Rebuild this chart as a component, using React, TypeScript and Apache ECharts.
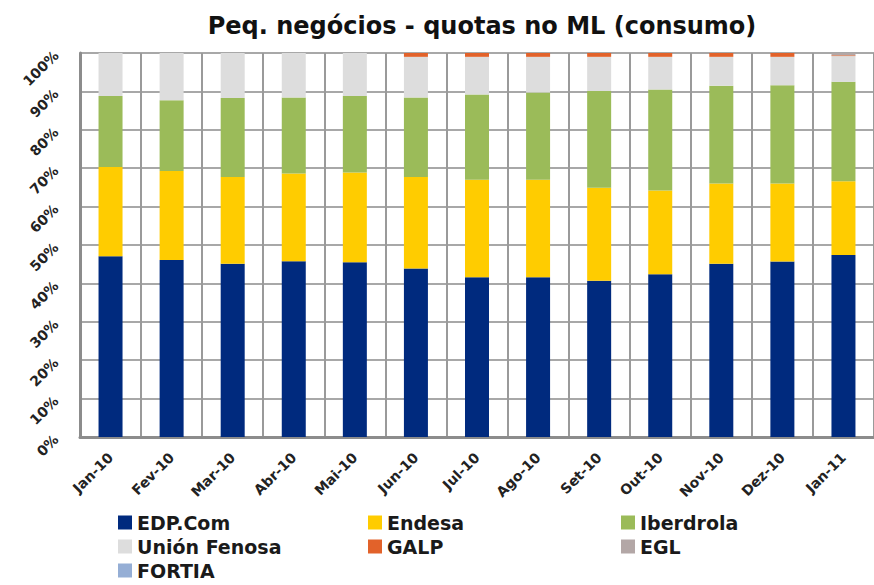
import React, { useEffect, useRef } from "react";
import * as echarts from "echarts";

const categories = ["Jan-10", "Fev-10", "Mar-10", "Abr-10", "Mai-10", "Jun-10", "Jul-10", "Ago-10", "Set-10", "Out-10", "Nov-10", "Dez-10", "Jan-11"];
const edpCom = [47.1, 46.1, 45.1, 45.8, 45.5, 43.9, 41.6, 41.6, 40.7, 42.4, 45.1, 45.7, 47.4];
const endesa = [23.2, 23.2, 22.6, 22.8, 23.4, 23.8, 25.4, 25.4, 24.2, 21.8, 20.9, 20.3, 19.2];
const iberdrola = [18.5, 18.4, 20.6, 19.8, 19.9, 20.7, 22.2, 22.7, 25.2, 26.3, 25.5, 25.6, 25.9];
const unionFenosa = [11.2, 12.3, 11.7, 11.6, 11.2, 10.6, 9.8, 9.3, 8.9, 8.5, 7.5, 7.4, 6.7];
const galp = [0, 0, 0, 0, 0, 1.0, 1.0, 1.0, 1.0, 1.0, 1.0, 1.0, 0.2];
const egl = [0, 0, 0, 0, 0, 0, 0, 0, 0, 0, 0, 0, 0.6];
const fortia = [0, 0, 0, 0, 0, 0, 0, 0, 0, 0, 0, 0, 0];
const yTicks = [0, 10, 20, 30, 40, 50, 60, 70, 80, 90, 100];

const seriesDefs = [
  { name: "EDP.Com", data: edpCom, color: "#002A7E" },
  { name: "Endesa", data: endesa, color: "#FFCC00" },
  { name: "Iberdrola", data: iberdrola, color: "#9BBB59" },
  { name: "Unión Fenosa", data: unionFenosa, color: "#DDDDDD" },
  { name: "GALP", data: galp, color: "#E2622A" },
  { name: "EGL", data: egl, color: "#B3A7A6" },
  { name: "FORTIA", data: fortia, color: "#95AED5" },
];

const FONT = "'DejaVu Sans', 'Liberation Sans', Arial, sans-serif";

export default function App() {
  const ref = useRef<HTMLDivElement>(null);
  useEffect(() => {
    if (!ref.current) return;
    const chart = echarts.init(ref.current, null, { renderer: "svg" });
    const legendText = { fontFamily: FONT, fontSize: 19, fontWeight: "bold" as const, color: "#1a1a1a", lineHeight: 19 };
    const mkLegend = (names: string[], left: number) => ({
      orient: "vertical" as const,
      left,
      top: 513,
      height: 100,
      padding: 0,
      itemWidth: 14,
      itemHeight: 14,
      itemGap: 5,
      icon: "rect",
      textStyle: legendText,
      data: names,
      selectedMode: false,
    });
    chart.setOption({
      animation: false,
      backgroundColor: "#ffffff",
      title: {
        text: "Peq. negócios - quotas no ML (consumo)",
        left: 477,
        textAlign: "center",
        top: 9,
        textStyle: { fontFamily: FONT, fontSize: 24, fontWeight: "bold", color: "#111" },
      },
      legend: [
        mkLegend(["EDP.Com", "Unión Fenosa", "FORTIA"], 118),
        mkLegend(["Endesa", "GALP"], 368),
        mkLegend(["Iberdrola", "EGL"], 621),
      ],
      grid: { left: 80, top: 53, bottom: 148, right: -8, containLabel: false },
      xAxis: {
        type: "category",
        data: categories,
        boundaryGap: true,
        axisLine: { show: true, lineStyle: { color: "#8c8c8c", width: 3 } },
        axisTick: { show: false },
        splitLine: { show: true, interval: 0, lineStyle: { color: "#9a9a9a", width: 2 } },
        axisLabel: {
          interval: 0,
          rotate: 45,
          margin: 18,
          fontFamily: FONT,
          fontSize: 14,
          fontWeight: "bold",
          color: "#222",
        },
      },
      yAxis: {
        type: "value",
        min: 0,
        max: 100,
        interval: 10,
        axisLine: { show: true, lineStyle: { color: "#8c8c8c", width: 3 } },
        axisTick: { show: false },
        splitLine: { show: true, lineStyle: { color: "#a8a8a8", width: 2 } },
        axisLabel: {
          rotate: 45,
          margin: 24,
          fontFamily: FONT,
          fontSize: 14,
          fontWeight: "bold",
          color: "#222",
          formatter: (v: number) => (yTicks.includes(v) ? v + "%" : ""),
        },
      },
      series: seriesDefs.map((s) => ({
        name: s.name,
        type: "bar",
        stack: "total",
        barWidth: 24,
        data: s.data,
        itemStyle: { color: s.color },
      })),
    });
    return () => chart.dispose();
  }, []);
  return <div ref={ref} style={{ width: 874, height: 585, position: "absolute", left: 0, top: 0 }} />;
}
